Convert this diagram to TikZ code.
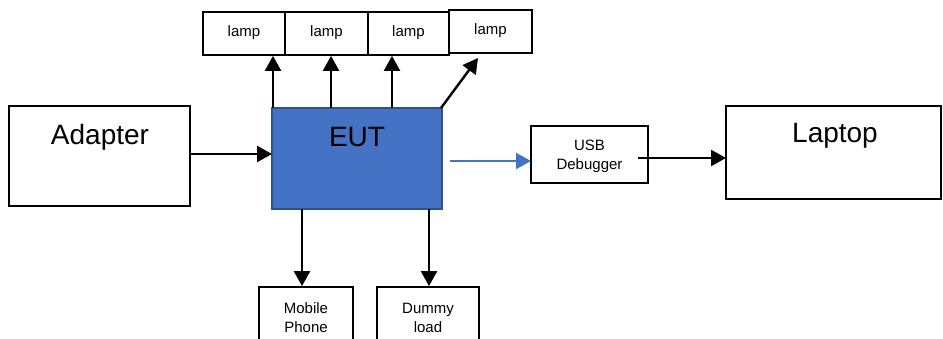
\documentclass[tikz,border=0pt]{standalone}
\usepackage{fontspec}
\setmainfont{Liberation Sans}
\usetikzlibrary{arrows.meta}
\definecolor{eutfill}{HTML}{4472C4}
\definecolor{eutdraw}{HTML}{2F528F}
\begin{document}
\begin{tikzpicture}[x=1pt,y=-1pt,
  box/.style={draw=black,line width=1.8pt,rectangle,inner sep=0pt},
  big/.style={font=\fontsize{28}{30}\selectfont,inner sep=0pt},
  small/.style={font=\fontsize{15}{19}\selectfont,inner sep=0pt,align=center},
  arr/.style={line width=2.4pt,-{Triangle[length=15pt,width=16pt]}},
  barr/.style={line width=2.2pt,draw=eutfill,-{Triangle[length=15pt,width=16pt]}}]
\useasboundingbox (0,0) rectangle (943,339);
% boxes
\node[box,minimum width=181pt,minimum height=100pt] (adapter) at (99.5,156) {};
\node[big] (adaptertxt) at (100,137) {Adapter};
\node[rectangle,fill=eutfill,draw=eutdraw,line width=1.5pt,minimum width=170pt,minimum height=101pt,inner sep=0pt] (eut) at (357,158.5) {};
\node[big] (euttxt) at (357,137.5) {EUT};
\node[box,minimum width=117pt,minimum height=57pt] (usb) at (589.5,154.5) {};
\node[small] (usbtxt) at (589.5,156) {USB\\Debugger};
\node[box,minimum width=215pt,minimum height=93pt] (laptop) at (833.5,152.5) {};
\node[big] (laptoptxt) at (835,136) {Laptop};
% lamps
\node[box,minimum width=82pt,minimum height=43pt] (l1) at (244,33.5) {};
\node[box,minimum width=83pt,minimum height=43pt] (l2) at (326.5,33.5) {};
\node[box,minimum width=81pt,minimum height=43pt] (l3) at (408.5,33.5) {};
\node[box,minimum width=83pt,minimum height=43pt] (l4) at (490.5,31.5) {};
\node[small] (l1t) at (244,33) {lamp};
\node[small] (l2t) at (326.5,33) {lamp};
\node[small] (l3t) at (408.5,33) {lamp};
\node[small] (l4t) at (490.5,31) {lamp};
% bottom boxes
\node[box,minimum width=94pt,minimum height=70pt] (mobile) at (306,322) {};
\node[small] (mobiletxt) at (306,317.5) {Mobile\\Phone};
\node[box,minimum width=102pt,minimum height=70pt] (dummy) at (428,322) {};
\node[small] (dummytxt) at (428,317.5) {Dummy\\load};
% connector end points
\coordinate (e1) at (273,108);
\coordinate (e2) at (331,108);
\coordinate (e3) at (392,108);
\coordinate (e4) at (441,108);
\coordinate (l4end) at (478,58);
\coordinate (a1) at (190,154);
\coordinate (a2) at (272,154);
\coordinate (m1) at (302,209);
\coordinate (d1) at (429,209);
\coordinate (b1) at (450,161);
\coordinate (b2) at (531,161);
\coordinate (u1) at (638,158);
\coordinate (u2) at (726,158);
% connectors
\draw[arr] (e1) -- (e1|-l1.south);
\draw[arr] (e2) -- (e2|-l2.south);
\draw[arr] (e3) -- (e3|-l3.south);
\draw[arr] (e4) -- (l4end);
\draw[arr] (a1) -- (a2);
\draw[arr] (m1) -- (m1|-mobile.north);
\draw[arr] (d1) -- (d1|-dummy.north);
\draw[barr] (b1) -- (b2);
\draw[arr] (u1) -- (u2);
\end{tikzpicture}
\end{document}
